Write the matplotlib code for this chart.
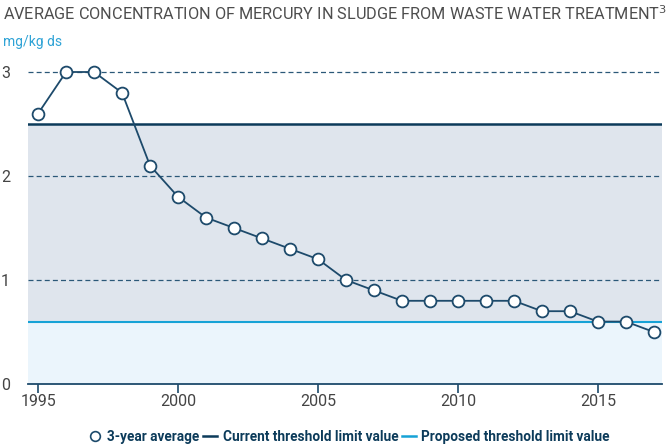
import numpy as np
import matplotlib.pyplot as plt
from matplotlib.lines import Line2D

years = list(range(1995, 2018))
avg_3yr = [2.6, 3.0, 3.0, 2.8, 2.1, 1.8, 1.6, 1.5, 1.4, 1.3, 1.2, 1.0, 0.9,
           0.8, 0.8, 0.8, 0.8, 0.8, 0.7, 0.7, 0.6, 0.6, 0.5]
current_limit = 2.5
proposed_limit = 0.6
x_ticks = [1995, 2000, 2005, 2010, 2015]
y_ticks = [0, 1, 2, 3]

navy = '#1d4a6b'
dark = '#0c3b5a'
cyan = '#16a2d6'
plt.rcParams['font.family'] = ['Roboto', 'DejaVu Sans']

fig = plt.figure(figsize=(6.71, 4.45), dpi=100)
ax = fig.add_axes([28/671, 1-384/445, 634/671, 327.6/445])
ax.set_xlim(1994.64, 2017.29)
ax.set_ylim(0, 3.15)

# shaded bands
ax.axhspan(proposed_limit, current_limit, color='#dfe5ed', zorder=0, lw=0)
ax.axhspan(0, proposed_limit, color='#ebf5fc', zorder=0, lw=0)

# dashed grid
for y in [1, 2, 3]:
    ax.axhline(y, color='#2b5878', lw=0.9, ls=(0, (4, 2.5)), zorder=1)

ax.axhline(current_limit, color=dark, lw=1.8, zorder=2)
ax.axhline(proposed_limit, color=cyan, lw=1.5, zorder=2)

ax.plot(years, avg_3yr, color=navy, lw=1.3, marker='o', markersize=8.5,
        markerfacecolor='white', markeredgecolor=navy, markeredgewidth=1.3,
        zorder=4, clip_on=False)

for s in ['top', 'right', 'left']:
    ax.spines[s].set_visible(False)
ax.spines['bottom'].set_color(navy)
ax.spines['bottom'].set_linewidth(1.3)
ax.set_xticks(x_ticks)
ax.set_yticks(y_ticks)
ax.tick_params(axis='x', colors='#444444', labelsize=11.5, length=6.5, width=1.2,
               color=navy, pad=1)
ax.tick_params(axis='y', colors='#444444', labelsize=11.5, length=0, pad=13)

fig.text(0.004, 0.948, 'AVERAGE CONCENTRATION OF MERCURY IN SLUDGE FROM WASTE WATER TREATMENT$^3$',
         fontsize=11.7, color='#4d4d4d', va='bottom', ha='left')
fig.text(0.004, 0.891, 'mg/kg ds', fontsize=10, color='#2fa3d6', va='bottom', ha='left')

handles = [
    Line2D([], [], ls='none', marker='o', markersize=7, markerfacecolor='white',
           markeredgecolor=navy, markeredgewidth=1.2),
    Line2D([], [], color=dark, lw=1.8),
    Line2D([], [], color=cyan, lw=1.8),
]
labels = ['3-year average', 'Current threshold limit value', 'Proposed threshold limit value']
leg = fig.legend(handles, labels, loc='lower center', bbox_to_anchor=(0.52, -0.025),
                 ncol=3, frameon=False, handlelength=1.0, handletextpad=0.4,
                 columnspacing=0.3, prop={'weight': 'bold', 'size': 9.8})
for t in leg.get_texts():
    t.set_color(dark)

fig.savefig('out.png', dpi=100)
